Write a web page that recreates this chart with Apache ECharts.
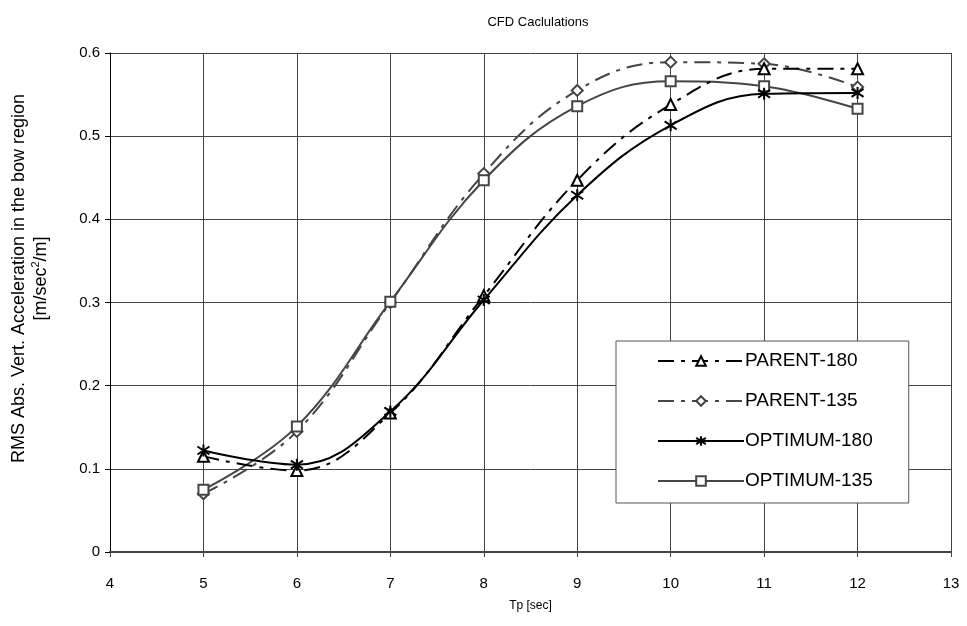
<!DOCTYPE html>
<html>
<head>
<meta charset="utf-8">
<script src="https://cdn.jsdelivr.net/npm/echarts@6/dist/echarts.min.js"></script>
<style>
  html, body { margin: 0; padding: 0; background: #fff; }
  #chart { width: 967px; height: 626px; }
</style>
</head>
<body>
<div id="chart"></div>
<script>
  // Tp [sec]
  var tp = [5, 6, 7, 8, 9, 10, 11, 12];
  var parent180 = [0.115, 0.098, 0.167, 0.308, 0.447, 0.538, 0.581, 0.581];
  var parent135 = [0.070, 0.145, 0.300, 0.455, 0.555, 0.589, 0.587, 0.559];
  var optimum180 = [0.122, 0.105, 0.169, 0.303, 0.429, 0.513, 0.551, 0.552];
  var optimum135 = [0.075, 0.151, 0.301, 0.447, 0.536, 0.566, 0.560, 0.533];
  var seriesNames = ['PARENT-180', 'PARENT-135', 'OPTIMUM-180', 'OPTIMUM-135'];

  function pairs(ys) {
    return tp.map(function (x, i) { return [x, ys[i]]; });
  }

  var font = 'Liberation Sans, Arial, sans-serif';
  var gray = '#454545';
  var dashDot = [16, 7, 4, 7];
  var star = 'path://M0,-6L0,6M-5,-4L5,4M-5,4L5,-4';
  var smooth = 0.4;

  var chart = echarts.init(document.getElementById('chart'));
  chart.setOption({
    animation: false,
    textStyle: {fontFamily: font},
    title: {
      text: 'CFD Caclulations',
      left: 533,
      textAlign: 'center',
      top: 11,
      textStyle: {fontSize: 13, fontWeight: 'normal', color: '#000', fontFamily: font}
    },
    grid: {left: 106, right: 16, top: 53, bottom: 74},
    legend: {
      orient: 'vertical',
      left: 616,
      top: 341,
      data: seriesNames,
      backgroundColor: '#fff',
      borderColor: '#555',
      borderWidth: 1,
      padding: [10, 36, 12, 41],
      itemWidth: 86,
      itemHeight: 12,
      itemGap: 20,
      textStyle: {fontSize: 19, lineHeight: 20, color: '#000', fontFamily: font, padding: [0, 0, 0, -4]}
    },
    xAxis: {
      type: 'value',
      min: 4,
      max: 13,
      interval: 1,
      name: 'Tp [sec]',
      nameLocation: 'middle',
      nameGap: 48,
      nameTextStyle: {fontSize: 12, color: '#000'},
      axisLine: {lineStyle: {color: '#444', width: 2}},
      axisTick: {show: true, length: 5, lineStyle: {color: '#444'}},
      axisLabel: {fontSize: 15, color: '#000', margin: 24},
      splitLine: {show: true, lineStyle: {color: '#444', width: 1}}
    },
    yAxis: {
      type: 'value',
      min: 0,
      max: 0.6,
      interval: 0.1,
      name: 'RMS Abs. Vert. Acceleration in the bow region\n[m/sec{sup|2}/m]',
      nameLocation: 'middle',
      nameGap: 58,
      nameRotate: 90,
      nameTextStyle: {
        fontSize: 18,
        color: '#000',
        lineHeight: 22,
        align: 'center',
        padding: [0, 0, 0, 48],
        rich: {sup: {fontSize: 11, verticalAlign: 'top', lineHeight: 22, color: '#000', padding: [0, 0, 8, 0]}}
      },
      axisLine: {show: true, lineStyle: {color: '#000', width: 1}},
      axisTick: {show: true, length: 5, lineStyle: {color: '#000'}},
      axisLabel: {
        fontSize: 15,
        color: '#000',
        margin: 10,
        formatter: function (v) { return v === 0 ? '0' : v.toFixed(1); }
      },
      splitLine: {show: true, lineStyle: {color: '#444', width: 1}}
    },
    series: [
      {
        name: seriesNames[0],
        type: 'line',
        smooth: smooth,
        data: pairs(parent180),
        symbol: 'triangle',
        symbolSize: 11,
        lineStyle: {color: '#000', width: 2, type: dashDot},
        itemStyle: {color: '#fff', borderColor: '#000', borderWidth: 2},
        z: 3
      },
      {
        name: seriesNames[1],
        type: 'line',
        smooth: smooth,
        data: pairs(parent135),
        symbol: 'diamond',
        symbolSize: 11,
        lineStyle: {color: gray, width: 2, type: dashDot},
        itemStyle: {color: '#fff', borderColor: gray, borderWidth: 2},
        z: 2
      },
      {
        name: seriesNames[2],
        type: 'line',
        smooth: smooth,
        data: pairs(optimum180),
        symbol: star,
        symbolSize: 12,
        lineStyle: {color: '#000', width: 2},
        itemStyle: {color: '#000', borderColor: '#000', borderWidth: 2},
        z: 4
      },
      {
        name: seriesNames[3],
        type: 'line',
        smooth: smooth,
        data: pairs(optimum135),
        symbol: 'rect',
        symbolSize: 10,
        lineStyle: {color: gray, width: 2},
        itemStyle: {color: '#fff', borderColor: gray, borderWidth: 2},
        z: 2
      }
    ]
  });
</script>
</body>
</html>
